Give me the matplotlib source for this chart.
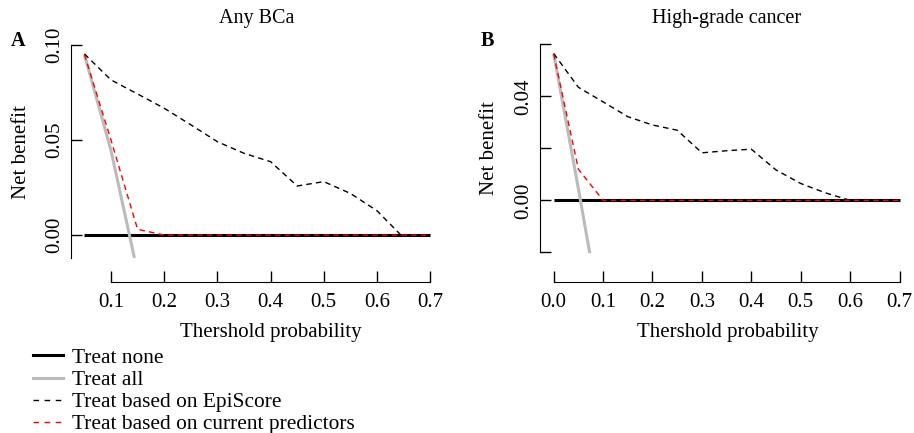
import matplotlib
matplotlib.use('Agg')
import matplotlib.pyplot as plt
from matplotlib.lines import Line2D

plt.rcParams['font.family'] = ['Liberation Serif', 'DejaVu Serif']

# パネルA: Any BCa
a_none_x = [0.05, 0.7]
a_none_y = [0.0, 0.0]
a_all_x = [0.05, 0.10, 0.144]
a_all_y = [0.095, 0.0445, -0.012]
a_epi_x = [0.05, 0.10, 0.15, 0.20, 0.25, 0.30, 0.35, 0.40, 0.45, 0.50, 0.55, 0.60, 0.645, 0.70]
a_epi_y = [0.0953, 0.0816, 0.0742, 0.0667, 0.0580, 0.0491, 0.0430, 0.0386, 0.0258, 0.0281, 0.0219, 0.0128, 0.0, 0.0]
a_cur_x = [0.05, 0.10, 0.15, 0.20, 0.70]
a_cur_y = [0.095, 0.050, 0.003, 0.0, 0.0]

# パネルB: High-grade cancer
b_none_x = [0.0, 0.7]
b_none_y = [0.0, 0.0]
b_all_x = [0.0, 0.05, 0.073]
b_all_y = [0.0565, 0.0045, -0.0203]
b_epi_x = [0.0, 0.05, 0.10, 0.15, 0.20, 0.25, 0.30, 0.35, 0.40, 0.45, 0.50, 0.55, 0.60, 0.70]
b_epi_y = [0.0565, 0.0435, 0.0379, 0.0322, 0.0290, 0.0270, 0.0183, 0.0191, 0.0197, 0.0117, 0.0065, 0.0029, 0.0, 0.0]
b_cur_x = [0.0, 0.05, 0.10, 0.70]
b_cur_y = [0.0563, 0.012, 0.0, 0.0]

legend_labels = ['Treat none', 'Treat all', 'Treat based on EpiScore',
                 'Treat based on current predictors']

W, H = 914, 433
FS = 15


def draw_panel(ax, none, all_, epi, cur, xlim, ylim, xticks, xlabels,
               yticks, ylabels, xb, yb):
    ax.plot(*none, color='black', lw=2.2, solid_capstyle='butt')
    ax.plot(*all_, color='#bbbbbb', lw=2.2, solid_capstyle='butt')
    ax.plot(*epi, color='black', lw=1, linestyle=(0, (4, 3)))
    ax.plot(*cur, color='red', lw=1, linestyle=(0, (4, 3)))
    ax.set_xlim(*xlim)
    ax.set_ylim(*ylim)
    for s in ['top', 'right']:
        ax.spines[s].set_visible(False)
    ax.spines['left'].set_bounds(*yb)
    ax.spines['bottom'].set_bounds(*xb)
    ax.set_xticks(xticks)
    ax.set_xticklabels(xlabels)
    ax.set_yticks(yticks)
    ax.set_yticklabels(ylabels, rotation=90, va='center')
    ax.tick_params(direction='in', length=8, width=1, labelsize=FS)
    ax.tick_params(axis='x', pad=8)
    ax.tick_params(axis='y', pad=5)
    ax.patch.set_alpha(0)


fig = plt.figure(figsize=(W / 100, H / 100), dpi=100)

axA = fig.add_axes([71 / W, 1 - 282 / H, (440.8 - 71) / W, 242 / H])
draw_panel(axA, (a_none_x, a_none_y), (a_all_x, a_all_y), (a_epi_x, a_epi_y),
           (a_cur_x, a_cur_y), (0.0248, 0.72), (-0.0247, 0.1026),
           [0.1, 0.2, 0.3, 0.4, 0.5, 0.6, 0.7],
           ['0.1', '0.2', '0.3', '0.4', '0.5', '0.6', '0.7'],
           [0.0, 0.05, 0.10], ['0.00', '0.05', '0.10'],
           (0.1, 0.7), (-0.012, 0.10))

axB = fig.add_axes([540 / W, 1 - 282 / H, (909.4 - 540) / W, 242 / H])
draw_panel(axB, (b_none_x, b_none_y), (b_all_x, b_all_y), (b_epi_x, b_epi_y),
           (b_cur_x, b_cur_y), (-0.0277, 0.72), (-0.0314, 0.0617),
           [0.0, 0.1, 0.2, 0.3, 0.4, 0.5, 0.6, 0.7],
           ['0.0', '0.1', '0.2', '0.3', '0.4', '0.5', '0.6', '0.7'],
           [-0.02, 0.0, 0.02, 0.04, 0.06], ['', '0.00', '', '0.04', ''],
           (0.0, 0.7), (-0.02, 0.06))

# タイトル・ラベル
fig.text(257 / W, 1 - 18 / H, 'Any BCa', ha='center', va='center', fontsize=14.5)
fig.text(727 / W, 1 - 18 / H, 'High-grade cancer', ha='center', va='center', fontsize=14.5)
fig.text(18 / W, 1 - 41 / H, 'A', ha='center', va='center', fontsize=14.5, fontweight='bold')
fig.text(487 / W, 1 - 41 / H, 'B', ha='center', va='center', fontsize=14.5, fontweight='bold')
fig.text(271 / W, 1 - 333 / H, 'Thershold probability', ha='center', va='center', fontsize=FS)
fig.text(728 / W, 1 - 333 / H, 'Thershold probability', ha='center', va='center', fontsize=FS)
fig.text(22 / W, 1 - 152 / H, 'Net benefit', ha='center', va='center', rotation=90, fontsize=FS)
fig.text(490 / W, 1 - 148 / H, 'Net benefit', ha='center', va='center', rotation=90, fontsize=FS)

# 凡例
handles = [Line2D([], [], color='black', lw=2.2),
           Line2D([], [], color='#bbbbbb', lw=2.2),
           Line2D([], [], color='black', lw=1, linestyle=(0, (4, 4))),
           Line2D([], [], color='red', lw=1, linestyle=(0, (4, 4)))]
fig.legend(handles, legend_labels, loc='upper left', bbox_to_anchor=(33 / W, 1 - 348 / H),
           frameon=False, fontsize=15.4, handlelength=1.4, handletextpad=0.42,
           labelspacing=0.1, borderpad=0, borderaxespad=0)

fig.savefig('out.png', dpi=100)
